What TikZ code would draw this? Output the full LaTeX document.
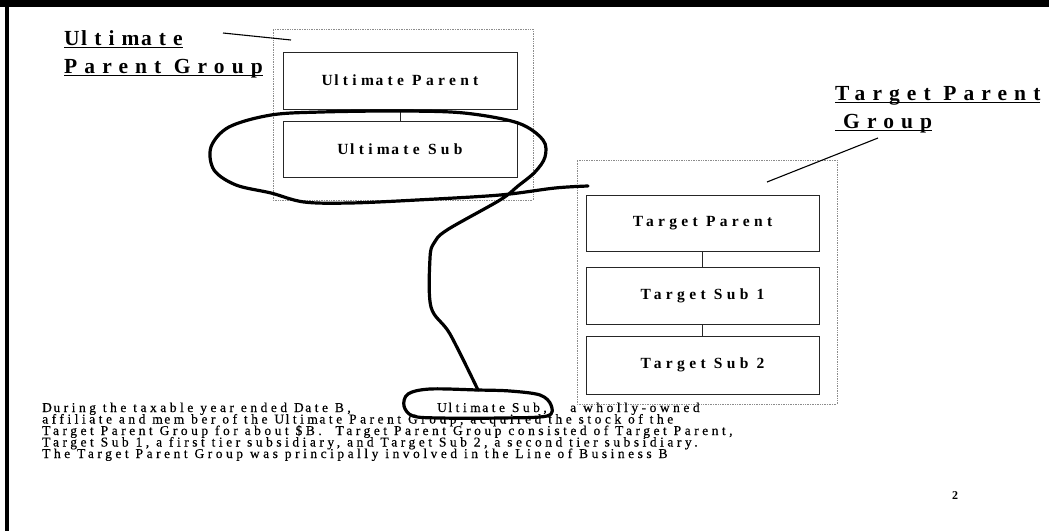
\documentclass[tikz,border=0pt]{standalone}
\usepackage{fontspec}
\setmainfont{Liberation Serif}
\newfontfamily\boxfont[LetterSpace=28]{Liberation Serif}
\newfontfamily\labfont[LetterSpace=33]{Liberation Serif}
\newfontfamily\notefont[LetterSpace=26,FakeBold=0.5]{Liberation Serif}
% underline drawn as a thick rule under the whole box of text
\newcommand\ulbar[1]{\setbox0\hbox{#1}\rlap{\rule[-3.4pt]{\wd0}{1.6pt}}\box0}
\newcommand\gp{\kern1.5pt}
\begin{document}
\begin{tikzpicture}[x=1pt,y=-1pt,
  member/.style={draw=black!85, line width=0.9pt, minimum width=234pt, minimum height=57pt,
    inner sep=0pt, font=\boxfont\bfseries\fontsize{15.5}{17}\selectfont},
  group/.style={draw=black!45, line width=0.7pt, densely dotted, inner sep=0pt},
  grouplabel/.style={font=\labfont\bfseries\fontsize{21.5}{25}\selectfont, inner sep=0pt, anchor=base west},
  note/.style={font=\notefont\fontsize{13.5}{14}\selectfont, inner sep=0pt, anchor=base west},
  link/.style={draw=black!85, line width=0.9pt},
  pointer/.style={line width=1.1pt},
  scribble/.style={line width=3.2pt, line cap=round, line join=round}
]
\useasboundingbox (0,0) rectangle (1049,531);

% page frame: top band and left rule
\fill (0,0) rectangle (1049,7);
\fill (5,0) rectangle (8.5,531);

% Ultimate Parent Group
\node[group, minimum width=260pt, minimum height=171pt] (ugrp) at (403,114.5) {};
\node[member] (up) at (400,80.5) {U\gp ltim\gp ate Parent};
\node[member, minimum height=56pt] (us) at (400,149) {U\gp ltim\gp ate Sub};
\draw[link] (up.south) -- (us.north);

\node[grouplabel] (ulab1) at (64,45) {\ulbar{U\gp ltim\gp ate}};
\node[grouplabel] (ulab2) at (64,73) {\ulbar{Parent Group}};
\coordinate (ulabfoot) at (223,33);
\coordinate (ulabtip) at (291,40);
\draw[pointer] (ulabfoot) -- (ulabtip);

% Target Parent Group
\node[group, minimum width=260pt, minimum height=244pt] (tgrp) at (707,282) {};
\node[member, minimum width=233pt, minimum height=56pt] (tp) at (702.5,223) {Target Parent};
\node[member, minimum width=233pt] (ts1) at (702.5,295.5) {Target Sub 1};
\node[member, minimum width=233pt, minimum height=58pt] (ts2) at (702.5,365) {Target Sub 2};
\draw[link] (tp.south) -- (ts1.north);
\draw[link] (ts1.south) -- (ts2.north);

\node[grouplabel] (tlab1) at (835,100) {\ulbar{Target Parent}};
\node[grouplabel] (tlab2) at (835,128) {\ulbar{\hspace*{8pt}Group}};
\coordinate (tlabfoot) at (878,138);
\coordinate (tlabtip) at (767,182);
\draw[pointer] (tlabfoot) -- (tlabtip);

% narrative text
\node[note] (n1a) at (42,412) {D\gp uring the taxable year ended D\gp ate B,};
\node[note] (n1b) at (437,412) {U\gp ltim\gp ate Sub,};
\node[note] (n1c) at (570,412) {a wholly-owned};
\node[note] (n2) at (42,423.5) {affiliate and m\gp em ber of the U\gp ltim\gp ate Parent Group, acquired the stock of the};
\node[note] (n3) at (42,435) {Target Parent Group for about \$B.\ \ Target Parent Group consisted of Target Parent,};
\node[note] (n4) at (42,446.5) {Target Sub 1, a first tier subsidiary, and Target Sub 2, a second tier subsidiary.};
\node[note] (n5) at (42,458) {The Target Parent Group was principally involved in the Line of Business B};

% page number
\node[font=\bfseries\fontsize{12}{12}\selectfont, inner sep=0pt, anchor=base] (pg) at (955,499) {2};

% hand-drawn marks: ring round Ultimate Sub with a stroke to the Target group
% and a second stroke down to the ringed words in the text
\draw[scribble] plot[smooth, tension=0.55] coordinates {
  (588,186) (555,188) (500,195) (417,200) (350,203) (304,202) (271,193) (236,185)
  (214,170) (211,147) (229,127) (271,115) (321,112) (400,111) (464,113) (518,123)
  (543,140) (545,157) (535,172) (518,186) (500,200) (447,230) (434,243) (430,258)
  (431,307) (450,334) (478,390)};
\draw[scribble] plot[smooth cycle, tension=0.55] coordinates {
  (478,390) (510,391) (540,395) (551,405) (547,416) (500,418) (440,418)
  (413,416) (404,406) (408,394) (430,389)};
\end{tikzpicture}
\end{document}
